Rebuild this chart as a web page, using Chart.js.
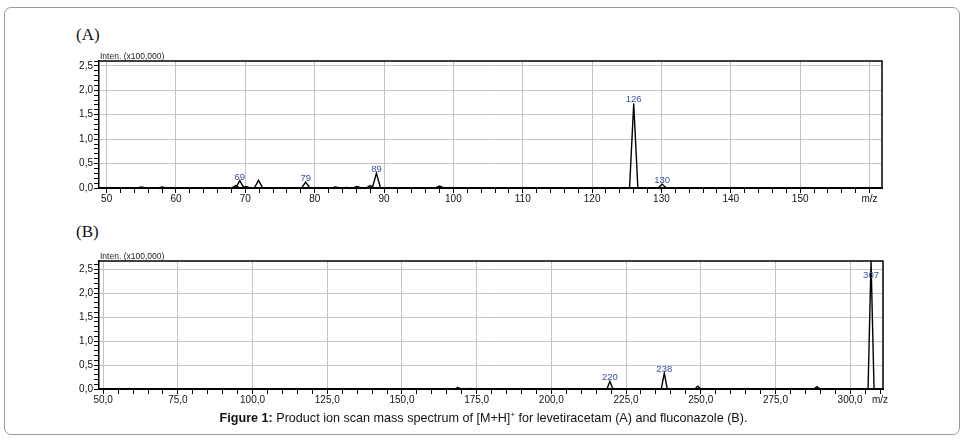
<!DOCTYPE html>
<html>
<head>
<meta charset="utf-8">
<script src="https://cdn.jsdelivr.net/npm/chart.js@4.4.1/dist/chart.umd.min.js"></script>
<style>
  body { margin: 0; background: #fff; width: 967px; height: 441px; position: relative; overflow: hidden; }
  #frame { position: absolute; left: 4px; top: 7px; width: 954px; height: 426px; border: 1px solid #9a9a9a; border-radius: 7px; }
  .panel { position: absolute; left: 76px; font-family: "Liberation Serif", serif; font-size: 17px; color: #111; }
  canvas { position: absolute; left: 50px; }
  #caption { position: absolute; left: 0; width: 967px; top: 410px; text-align: center; font-family: "Liberation Sans", Arial, sans-serif; font-size: 12.6px; color: #111; }
  #caption sup { font-size: 8px; }
</style>
</head>
<body>
<div id="frame"></div>
<div class="panel" style="top:25px">(A)</div>
<div class="panel" style="top:222px">(B)</div>
<canvas id="chartA" width="870" height="170" style="top:45px"></canvas>
<canvas id="chartB" width="870" height="170" style="top:245px"></canvas>
<div id="caption"><b>Figure 1:</b> Product ion scan mass spectrum of [M+H]<sup>+</sup> for levetiracetam (A) and fluconazole (B).</div>

<script>
// (A) levetiracetam
var peakMzA  = [55, 58, 68.6, 69.2, 70.1, 71.9, 78.7, 83, 84.6, 86.1, 88.0, 88.9, 98, 126, 130.1];
var peakIntA = [0.02, 0.02, 0.05, 0.15, 0.03, 0.16, 0.12, 0.02, 0.01, 0.03, 0.05, 0.30, 0.04, 1.73, 0.08];
var labelMzA = [69, 79, 89, 126, 130];

// (B) fluconazole
var peakMzB  = [58.7, 168.7, 172.8, 219.6, 237.8, 249, 265.8, 288.9, 307];
var peakIntB = [0.01, 0.03, 0.01, 0.16, 0.33, 0.06, 0.01, 0.05, 2.67];
var labelMzB = [220, 238, 307];

var fontFamily = '"Liberation Sans", Arial, sans-serif';

function buildProfile(mz, inten, hw, xmin, xmax)
{
    var pts = [{x: xmin, y: 0}];
    for (var i = 0; i < mz.length; i++) {
        pts.push({x: mz[i] - hw, y: 0});
        pts.push({x: mz[i], y: inten[i]});
        pts.push({x: mz[i] + hw, y: 0});
    }
    pts.push({x: xmax, y: 0});
    return pts;
}

var spectrumPlugin = {
    id: 'spectrum',
    afterDatasetsDraw: function(chart, args, opts) {
        var ctx = chart.ctx;
        var area = chart.chartArea;
        var xs = chart.scales.x, ys = chart.scales.y;

        // top and right border of the plot box
        ctx.save();
        ctx.strokeStyle = '#000';
        ctx.lineWidth = 1.5;
        ctx.beginPath();
        ctx.moveTo(area.left, area.top);
        ctx.lineTo(area.right, area.top);
        ctx.lineTo(area.right, area.bottom);
        ctx.stroke();

        // peak labels
        ctx.fillStyle = '#3c50a8';
        ctx.font = '9.5px ' + fontFamily;
        ctx.textAlign = 'center';
        ctx.textBaseline = 'alphabetic';
        opts.labels.forEach(function(m) {
            var best = 0;
            for (var i = 1; i < opts.mz.length; i++) {
                if (Math.abs(opts.mz[i] - m) < Math.abs(opts.mz[best] - m)) best = i;
            }
            var px = xs.getPixelForValue(opts.mz[best]);
            var py = Math.max(ys.getPixelForValue(opts.inten[best]) - 1, area.top + 17);
            ctx.fillText(String(m), px, py);
        });

        // intensity unit
        ctx.fillStyle = '#222';
        ctx.font = '8.5px ' + fontFamily;
        ctx.textAlign = 'left';
        ctx.fillText('Inten. (x100,000)', area.left + 1, area.top - 2);
        ctx.restore();
    }
};

function makeSpectrum(id, c)
{
    var data = buildProfile(c.mz, c.inten, c.hw, c.xmin, c.xmax);
    return new Chart(document.getElementById(id), {
        type: 'line',
        data: {
            datasets: [{
                data: data,
                borderColor: '#000',
                borderWidth: 1.4,
                pointRadius: 0,
                tension: 0,
                fill: false
            }]
        },
        options: {
            responsive: false,
            animation: false,
            devicePixelRatio: 1,
            events: [],
            layout: { padding: { top: c.padTop, right: c.padRight, left: 0, bottom: 0 } },
            plugins: {
                legend: { display: false },
                tooltip: { enabled: false },
                spectrum: { labels: c.labels, mz: c.mz, inten: c.inten }
            },
            scales: {
                x: {
                    type: 'linear',
                    min: c.xmin,
                    max: c.xmax,
                    afterFit: function(scale) { scale.height = c.xHeight; },
                    border: { display: true, color: '#000', width: 2 },
                    grid: {
                        color: function(ctx) {
                            return ctx.tick && c.xMajor(ctx.tick.value) ? '#c4c4c4' : 'rgba(0,0,0,0)';
                        },
                        tickColor: '#000',
                        tickLength: 5,
                        lineWidth: 1
                    },
                    ticks: {
                        stepSize: c.xStep,
                        includeBounds: false,
                        autoSkip: false,
                        maxRotation: 0,
                        padding: 0,
                        color: '#111',
                        font: { family: fontFamily, size: 10 },
                        callback: c.xLabel
                    }
                },
                y: {
                    min: 0,
                    max: c.ymax,
                    afterFit: function(scale) { scale.width = 49; },
                    border: { display: true, color: '#000', width: 1.5 },
                    grid: {
                        color: function(ctx) {
                            return ctx.tick && Math.round(ctx.tick.value * 10) % 5 === 0 ? '#c4c4c4' : 'rgba(0,0,0,0)';
                        },
                        tickColor: '#000',
                        tickLength: 5,
                        lineWidth: 1
                    },
                    ticks: {
                        stepSize: 0.1,
                        includeBounds: false,
                        autoSkip: false,
                        padding: 1,
                        color: '#111',
                        font: { family: fontFamily, size: 10 },
                        callback: function(v) {
                            return Math.round(v * 10) % 5 === 0 ? v.toFixed(1).replace('.', ',') : '';
                        }
                    }
                }
            }
        },
        plugins: [spectrumPlugin]
    });
}

makeSpectrum('chartA', {
    mz: peakMzA, inten: peakIntA, labels: labelMzA,
    hw: 0.6, xmin: 48.9, xmax: 161.8, ymax: 2.6, xStep: 2,
    padTop: 16, padRight: 38, xHeight: 27,
    xMajor: function(v) { return Math.round(v) % 10 === 0; },
    xLabel: function(v) {
        if (v === 160) return 'm/z';
        return v % 10 === 0 ? String(v) : '';
    }
});

makeSpectrum('chartB', {
    mz: peakMzB, inten: peakIntB, labels: labelMzB,
    hw: 1.0, xmin: 48.6, xmax: 311, ymax: 2.67, xStep: 5,
    padTop: 16, padRight: 37, xHeight: 26,
    xMajor: function(v) { return Math.round(v) % 25 === 0; },
    xLabel: function(v) {
        if (v === 310) return 'm/z';
        return v % 25 === 0 ? v.toFixed(1).replace('.', ',') : '';
    }
});
</script>
</body>
</html>
